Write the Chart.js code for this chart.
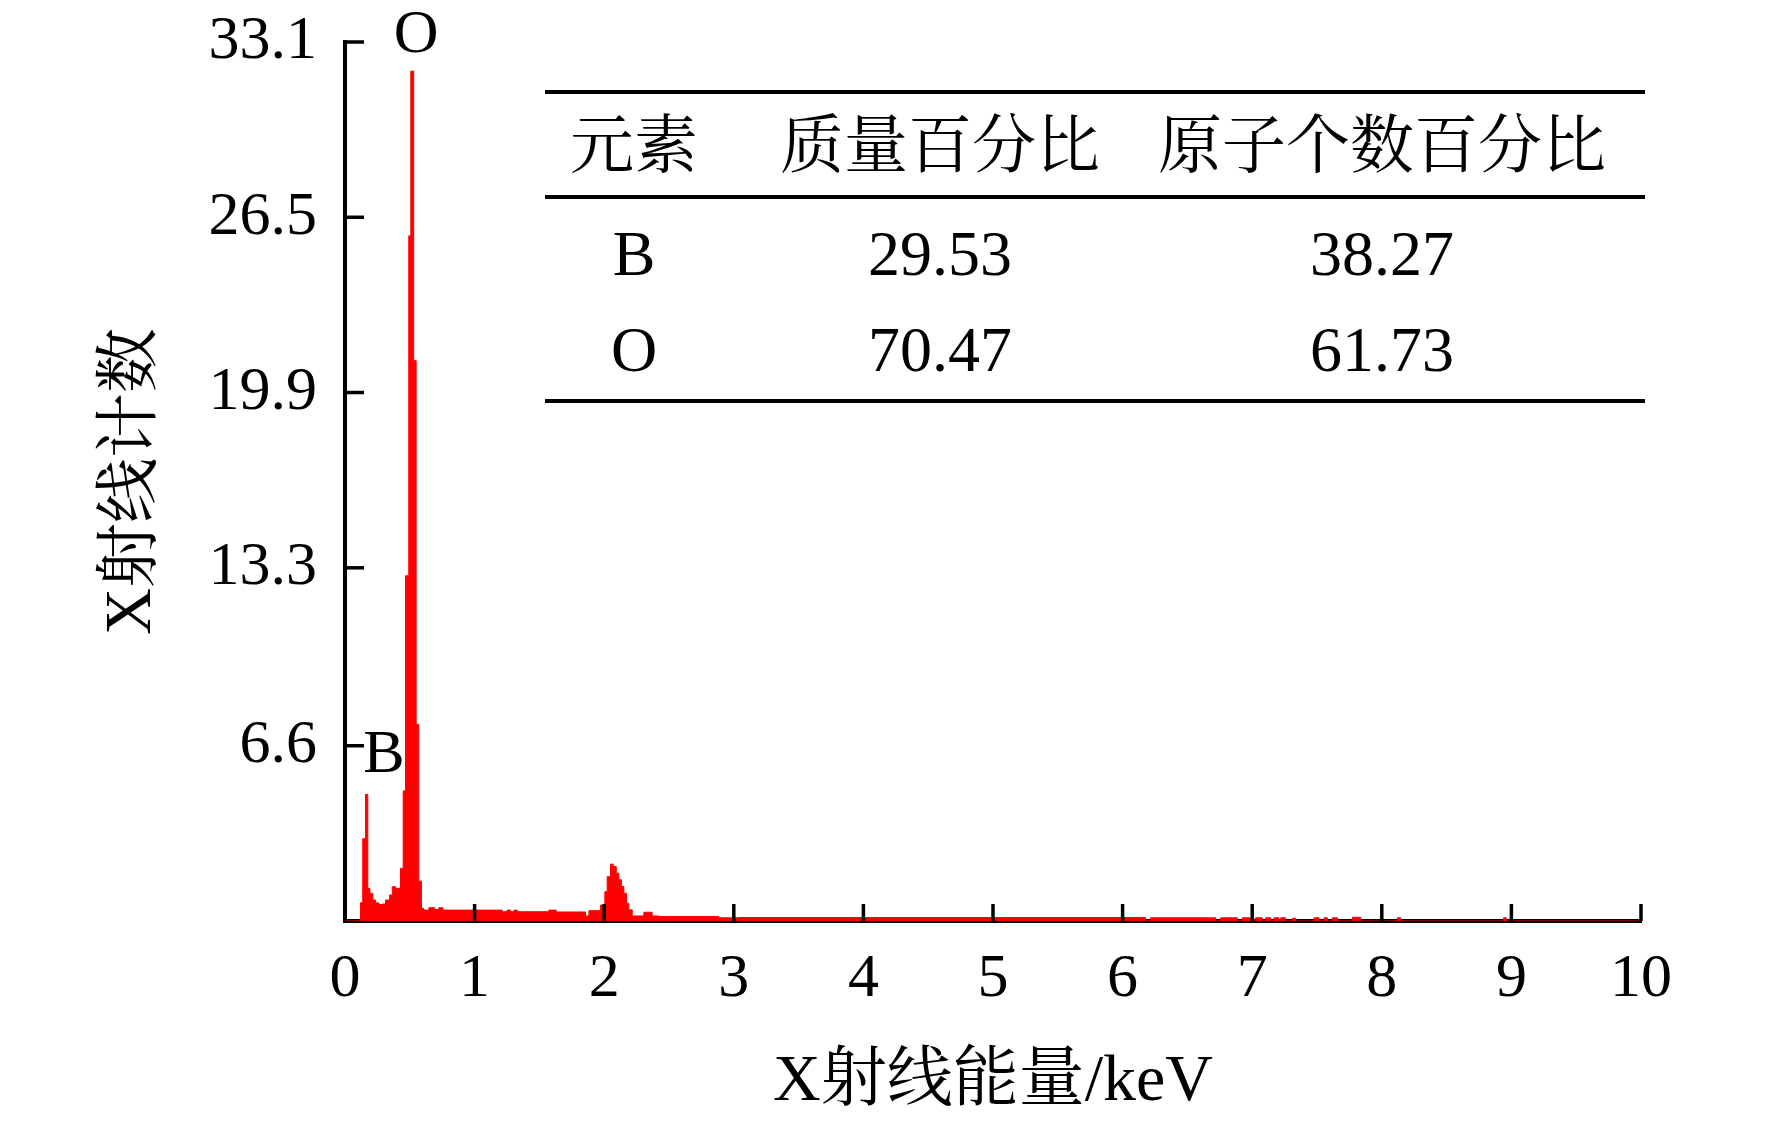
<!DOCTYPE html>
<html lang="zh">
<head>
<meta charset="utf-8">
<title>EDS</title>
<script src="https://cdn.jsdelivr.net/npm/chart.js@4.4.1/dist/chart.umd.min.js"></script>
<style>
  html, body { margin: 0; padding: 0; background: #fff; }
  #wrap { width: 1772px; height: 1123px; position: relative; }
</style>
</head>
<body>
<div id="wrap"><canvas id="edsChart"></canvas></div>
<script>
// spectrum: left edge of each step (keV) and its count level
const energyKeV = [
  0.000, 0.120, 0.137, 0.158, 0.176, 0.192, 0.215, 0.236, 0.262, 0.290, 0.313,
  0.344, 0.365, 0.390, 0.428, 0.449, 0.467, 0.492, 0.508, 0.530, 0.549, 0.569,
  0.590, 0.608, 0.647, 0.693, 0.724, 0.755, 1.213, 1.251, 1.277, 1.303, 1.329,
  1.573, 1.630, 1.856, 1.882, 1.972, 2.005, 2.023, 2.049, 2.070, 2.093, 2.113,
  2.134, 2.152, 2.172, 2.190, 2.216, 2.306, 2.370, 2.422, 2.885, 3.040, 6.178,
  6.216, 6.718, 6.757, 6.885, 6.924, 6.988, 7.026, 7.078, 7.104, 7.143, 7.168,
  7.207, 7.220, 7.258, 7.310, 7.336, 7.477, 7.516, 7.554, 7.580, 7.619, 7.657,
  7.773, 7.837, 8.120, 8.146, 8.940, 8.960, 10.00
];
const counts = [
  0, 0.69, 3.10, 4.77, 1.23, 1.04, 0.79, 0.68, 0.62, 0.64, 0.79,
  0.98, 1.29, 1.23, 1.98, 4.90, 13.0, 25.8, 32.0, 21.1, 7.40, 1.50,
  0.48, 0.41, 0.50, 0.43, 0.50, 0.41, 0.35, 0.41, 0.35, 0.41, 0.35,
  0.41, 0.34, 0.19, 0.39, 0.60, 1.10, 1.67, 2.14, 2.05, 1.80, 1.55,
  1.30, 1.04, 0.67, 0.42, 0.19, 0.33, 0.19, 0.17, 0.12, 0.13, 0,
  0.12, 0, 0.12, 0, 0.12, 0, 0.12, 0, 0.12, 0, 0.12,
  0, 0.12, 0, 0.10, 0, 0.12, 0, 0.12, 0, 0.12, 0,
  0.14, 0, 0.12, 0, 0.12, 0, 0
];

const xTickValues = [0, 1, 2, 3, 4, 5, 6, 7, 8, 9, 10];
const yTickValues = [6.6, 13.3, 19.9, 26.5, 33.1];

// peak labels (keV, counts)
const peakNames = ['B', 'O'];
const peakEnergy = [0.30, 0.548];
const peakLevel = [6.24, 33.35];

// inset table
const tableHeader = ['元素', '质量百分比', '原子个数百分比'];
const elements = ['B', 'O'];
const massPercent = [29.53, 70.47];
const atomPercent = [38.27, 61.73];

const fontStack = '"Liberation Serif", "Noto Serif CJK SC", "Noto Sans CJK SC", serif';

const overlayPlugin = {
  id: 'edsOverlay',
  afterDraw(chart) {
    const { ctx, scales: { x, y } } = chart;
    ctx.save();

    // inward tick marks
    ctx.strokeStyle = '#000';
    ctx.lineWidth = 3.5;
    x.ticks.forEach((t) => {
      if (t.value === 0) return;
      const px = x.getPixelForValue(t.value);
      ctx.beginPath();
      ctx.moveTo(px, y.bottom);
      ctx.lineTo(px, y.bottom - 17);
      ctx.stroke();
    });
    y.ticks.forEach((t) => {
      const py = y.getPixelForValue(t.value);
      ctx.beginPath();
      ctx.moveTo(x.left, py);
      ctx.lineTo(x.left + 19, py);
      ctx.stroke();
    });

    // peak labels
    ctx.fillStyle = '#000';
    ctx.textAlign = 'center';
    ctx.textBaseline = 'middle';
    ctx.font = '62px ' + fontStack;
    peakNames.forEach((name, i) => {
      ctx.fillText(name, x.getPixelForValue(peakEnergy[i]), y.getPixelForValue(peakLevel[i]));
    });

    // table
    const left = 545, right = 1645;
    const colX = [634, 940, 1382];
    ctx.lineWidth = 4;
    [92, 197, 401].forEach((ly) => {
      ctx.beginPath();
      ctx.moveTo(left, ly);
      ctx.lineTo(right, ly);
      ctx.stroke();
    });
    ctx.font = '64px ' + fontStack;
    tableHeader.forEach((h, i) => ctx.fillText(h, colX[i], 150));
    elements.forEach((el, r) => {
      const ry = r === 0 ? 258 : 354;
      ctx.fillText(el, colX[0], ry);
      ctx.fillText(massPercent[r].toFixed(2), colX[1], ry);
      ctx.fillText(atomPercent[r].toFixed(2), colX[2], ry);
    });

    ctx.restore();
  }
};

const ctx = document.getElementById('edsChart').getContext('2d');
const edsChart = new Chart(ctx, {
  type: 'line',
  data: {
    datasets: [
      {
        data: energyKeV.map((e, i) => ({ x: e, y: counts[i] })),
        stepped: true,
        fill: 'origin',
        backgroundColor: '#ff0000',
        borderColor: '#ff0000',
        borderWidth: 1,
        pointRadius: 0,
      },
    ],
  },
  options: {
    responsive: true,
    maintainAspectRatio: false,
    animation: false,
    layout: { padding: { top: 42, right: 131, left: 0, bottom: 0 } },
    plugins: {
      legend: { display: false },
      tooltip: { enabled: false },
    },
    scales: {
      x: {
        type: 'linear',
        min: 0,
        max: 10,
        z: 1,
        afterBuildTicks: (scale) => {
          scale.ticks = xTickValues.map((v) => ({ value: v }));
        },
        afterFit: (scale) => {
          scale.height = 202;
          scale.paddingLeft = 0;
          scale.paddingRight = 0;
        },
        grid: { display: false, drawTicks: false },
        border: { display: true, width: 4, color: '#000' },
        ticks: {
          color: '#000',
          padding: 22,
          maxRotation: 0,
          font: { family: fontStack, size: 62 },
        },
        title: {
          display: true,
          text: 'X射线能量/keV',
          color: '#000',
          padding: { bottom: 1, top: 0 },
          font: { family: fontStack, size: 66 },
        },
      },
      y: {
        min: 0,
        max: 33.1,
        z: 1,
        afterBuildTicks: (scale) => {
          scale.ticks = yTickValues.map((v) => ({ value: v }));
        },
        afterFit: (scale) => {
          scale.width = 345;
          scale.paddingTop = 0;
          scale.paddingBottom = 0;
        },
        grid: { display: false, drawTicks: false },
        border: { display: true, width: 4, color: '#000' },
        ticks: {
          color: '#000',
          padding: 28,
          font: { family: fontStack, size: 62 },
          callback: (v) => Number(v).toFixed(1),
        },
        title: {
          display: true,
          text: 'X射线计数',
          color: '#000',
          padding: { top: 94, bottom: 0 },
          font: { family: fontStack, size: 65 },
        },
      },
    },
  },
  plugins: [overlayPlugin],
});
</script>
</body>
</html>
